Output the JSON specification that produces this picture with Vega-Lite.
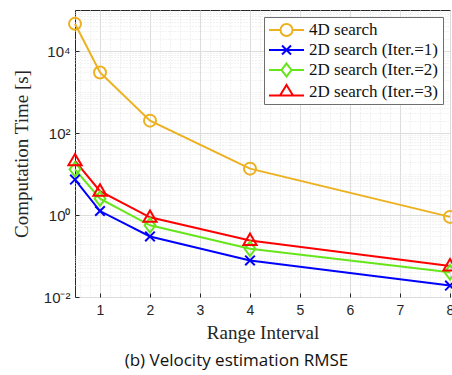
{
  "$schema": "https://vega.github.io/schema/vega-lite/v6.json",
  "width": 375,
  "height": 287,
  "autosize": {"type": "none"},
  "padding": {"left": 75, "top": 10, "right": 2, "bottom": 78},
  "background": "white",
  "title": {
    "text": "(b) Velocity estimation RMSE",
    "orient": "bottom",
    "anchor": "middle",
    "frame": "bounds",
    "font": "Open Sans",
    "fontSize": 17,
    "fontWeight": "normal",
    "color": "#111",
    "offset": 11
  },
  "config": {
    "view": {"stroke": "#262626", "strokeWidth": 1},
    "axis": {
      "domainColor": "#262626",
      "tickColor": "#262626",
      "labelFont": "Liberation Sans",
      "labelFontSize": 14,
      "labelColor": "#262626",
      "titleFont": "Liberation Serif",
      "titleFontSize": 19,
      "titleFontWeight": "normal",
      "titleColor": "#262626"
    }
  },
  "data": {
    "values": [
      {"series": "4D search", "x": 0.5, "y": 46000},
      {"series": "4D search", "x": 1, "y": 3000},
      {"series": "4D search", "x": 2, "y": 200},
      {"series": "4D search", "x": 4, "y": 13.5},
      {"series": "4D search", "x": 8, "y": 0.9},
      {"series": "2D search (Iter.=1)", "x": 0.5, "y": 7.3},
      {"series": "2D search (Iter.=1)", "x": 1, "y": 1.25},
      {"series": "2D search (Iter.=1)", "x": 2, "y": 0.3},
      {"series": "2D search (Iter.=1)", "x": 4, "y": 0.078},
      {"series": "2D search (Iter.=1)", "x": 8, "y": 0.019},
      {"series": "2D search (Iter.=2)", "x": 0.5, "y": 13},
      {"series": "2D search (Iter.=2)", "x": 1, "y": 2.5},
      {"series": "2D search (Iter.=2)", "x": 2, "y": 0.56},
      {"series": "2D search (Iter.=2)", "x": 4, "y": 0.15},
      {"series": "2D search (Iter.=2)", "x": 8, "y": 0.04},
      {"series": "2D search (Iter.=3)", "x": 0.5, "y": 21},
      {"series": "2D search (Iter.=3)", "x": 1, "y": 3.8},
      {"series": "2D search (Iter.=3)", "x": 2, "y": 0.88},
      {"series": "2D search (Iter.=3)", "x": 4, "y": 0.24},
      {"series": "2D search (Iter.=3)", "x": 8, "y": 0.057}
    ]
  },
  "encoding": {
    "x": {
      "field": "x",
      "type": "quantitative",
      "scale": {"domain": [0.5, 8], "nice": false, "zero": false},
      "axis": {
        "title": "Range Interval",
        "values": [0.6, 0.8, 1, 1.2, 1.4, 1.6, 1.8, 2, 2.2, 2.4, 2.6, 2.8, 3, 3.2, 3.4, 3.6, 3.8, 4, 4.2, 4.4, 4.6, 4.8, 5, 5.2, 5.4, 5.6, 5.8, 6, 6.2, 6.4, 6.6, 6.8, 7, 7.2, 7.4, 7.6, 7.8, 8],
        "labelExpr": "datum.value % 1 == 0 ? datum.value : ''",
        "labelFlush": false,
        "labelOverlap": false,
        "domain": false,
        "tickSize": -4,
        "tickOpacity": {"condition": {"test": "datum.value % 1 != 0", "value": 0}, "value": 1},
        "labelPadding": 10,
        "titlePadding": 6,
        "grid": true,
        "gridColor": {"condition": {"test": "datum.value % 1 != 0", "value": "#e4e4e4"}, "value": "#dcdcdc"},
        "gridDash": {"condition": {"test": "datum.value % 1 != 0", "value": [1, 2]}, "value": []},
        "gridWidth": 1
      }
    },
    "y": {
      "field": "y",
      "type": "quantitative",
      "scale": {"type": "log", "domain": [0.01, 100000], "nice": false},
      "axis": {
        "title": "Computation Time [s]",
        "values": [0.01, 0.02, 0.03, 0.04, 0.05, 0.06, 0.07, 0.08, 0.09, 0.1, 0.2, 0.3, 0.4, 0.5, 0.6, 0.7, 0.8, 0.9, 1, 2, 3, 4, 5, 6, 7, 8, 9, 10, 20, 30, 40, 50, 60, 70, 80, 90, 100, 200, 300, 400, 500, 600, 700, 800, 900, 1000, 2000, 3000, 4000, 5000, 6000, 7000, 8000, 9000, 10000, 20000, 30000, 40000, 50000, 60000, 70000, 80000, 90000],
        "labelExpr": "datum.value == 0.01 ? '10⁻²' : datum.value == 1 ? '10⁰' : datum.value == 100 ? '10²' : datum.value == 10000 ? '10⁴' : ''",
        "labelOverlap": false,
        "labelFlush": false,
        "labelFontSize": 15,
        "domain": false,
        "tickSize": -4,
        "tickOpacity": {"condition": {"test": "indexof([0.01, 1, 100, 10000], datum.value) < 0", "value": 0}, "value": 1},
        "labelPadding": 9,
        "titlePadding": 12,
        "grid": true,
        "gridColor": {"condition": {"test": "indexof([0.01, 1, 100, 10000], datum.value) < 0", "value": "#e4e4e4"}, "value": "#dcdcdc"},
        "gridDash": {"condition": {"test": "indexof([0.01, 1, 100, 10000], datum.value) < 0", "value": [1, 2]}, "value": []},
        "gridWidth": 1
      }
    },
    "color": {
      "field": "series",
      "type": "nominal",
      "scale": {
        "domain": ["4D search", "2D search (Iter.=1)", "2D search (Iter.=2)", "2D search (Iter.=3)"],
        "range": ["#EDB120", "#0000FF", "#66E61A", "#FF0000"]
      },
      "legend": {
        "title": null,
        "orient": "top-right",
        "offset": 7,
        "fillColor": "white",
        "strokeColor": "#6e6e6e",
        "padding": 4,
        "labelFont": "Liberation Serif",
        "labelFontSize": 17,
        "labelColor": "#111",
        "labelOffset": 23,
        "rowPadding": 0,
        "symbolSize": 256,
        "symbolStrokeWidth": 2,
        "symbolType": "stroke",
        "encode": {
          "symbols": {
            "update": {
              "fill": {"value": "transparent"},
              "strokeWidth": {"value": 2},
              "shape": {"signal": "datum.value == '4D search' ? 'M-1,0H0.44M1.94,0H3.375M0.44,0A0.75,0.75 0 1,0 1.94,0A0.75,0.75 0 1,0 0.44,0' : datum.value == '2D search (Iter.=1)' ? 'M-1,0H3.375M0.63,-0.56L1.75,0.56M0.63,0.56L1.75,-0.56' : datum.value == '2D search (Iter.=2)' ? 'M-1,0H0.57M1.81,0H3.375M1.19,-0.81L1.81,0L1.19,0.81L0.57,0Z' : 'M-1,0.44H3.375M1.19,-0.875L2,0.44L0.38,0.44Z'"}
            }
          }
        }
      }
    }
  },
  "layer": [
    {
      "mark": {"type": "line", "strokeWidth": 2, "clip": false}
    },
    {
      "transform": [{"filter": "datum.series == '4D search'"}],
      "mark": {"type": "point", "shape": "circle", "filled": false, "strokeWidth": 2, "size": 144, "opacity": 1, "clip": false}
    },
    {
      "transform": [{"filter": "datum.series == '2D search (Iter.=1)'"}],
      "mark": {"type": "point", "shape": "M-0.8,-0.8L0.8,0.8M-0.8,0.8L0.8,-0.8", "filled": false, "strokeWidth": 2, "size": 144, "opacity": 1, "clip": false}
    },
    {
      "transform": [{"filter": "datum.series == '2D search (Iter.=2)'"}],
      "mark": {"type": "point", "shape": "M0,-1.2L0.9,0L0,1.2L-0.9,0Z", "filled": false, "strokeWidth": 2, "size": 144, "opacity": 1, "clip": false}
    },
    {
      "transform": [{"filter": "datum.series == '2D search (Iter.=3)'"}],
      "mark": {"type": "point", "shape": "M0,-1.15L1.1,0.75L-1.1,0.75Z", "filled": false, "strokeWidth": 2, "size": 144, "opacity": 1, "clip": false}
    }
  ]
}
